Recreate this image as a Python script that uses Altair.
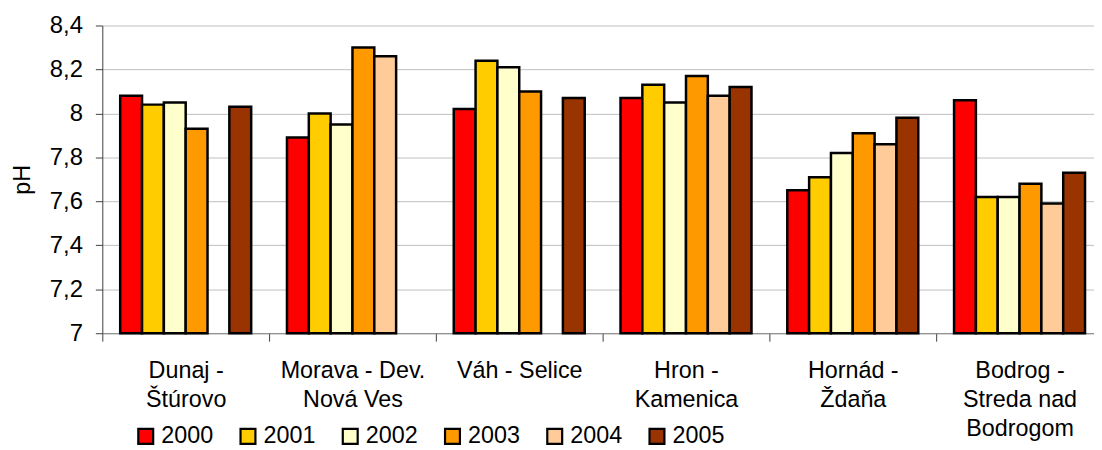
import altair as alt
import pandas as pd

categories = [
    "Dunaj -|Štúrovo",
    "Morava - Dev.|Nová Ves",
    "Váh - Selice",
    "Hron -|Kamenica",
    "Hornád -|Ždaňa",
    "Bodrog -|Streda nad|Bodrogom",
]
years = ["2000", "2001", "2002", "2003", "2004", "2005"]
colors = ["#FF0000", "#FFCC00", "#FFFFCC", "#FF9900", "#FFCC99", "#993300"]

# values per year (None = missing)
v2000 = [8.08, 7.89, 8.02, 8.07, 7.65, 8.06]
v2001 = [8.04, 8.00, 8.24, 8.13, 7.71, 7.62]
v2002 = [8.05, 7.95, 8.21, 8.05, 7.82, 7.62]
v2003 = [7.93, 8.30, 8.10, 8.17, 7.91, 7.68]
v2004 = [None, 8.26, None, 8.08, 7.86, 7.59]
v2005 = [8.03, None, 8.07, 8.12, 7.98, 7.73]

y_ticks = [7.0, 7.2, 7.4, 7.6, 7.8, 8.0, 8.2, 8.4]

rows = []
for yr, vals in zip(years, [v2000, v2001, v2002, v2003, v2004, v2005]):
    for cat, v in zip(categories, vals):
        if v is not None:
            rows.append({"river": cat, "year": yr, "pH": v})
df = pd.DataFrame(rows)

FONT = "Liberation Sans"
FS = 23.5

chart = alt.Chart(df).mark_bar(stroke="#000000", strokeWidth=2.5, strokeOpacity=1).encode(
    x=alt.X(
        "river:N",
        sort=categories,
        scale=alt.Scale(paddingInner=0, paddingOuter=0, range=[0, 1008]),
        axis=alt.Axis(
            title=None,
            labelAngle=0,
            tickBand="extent",
            labelExpr="split(datum.label, '|')",
            labelLineHeight=29,
            labelFontSize=FS,
            labelFont=FONT,
            labelColor="black",
            labelPadding=18,
            labelBaseline="top",
            tickSize=8,
            tickColor="#404040",
            domainColor="#808080",
            grid=False,
        ),
    ),
    xOffset=alt.XOffset(
        "year:N", sort=years, scale=alt.Scale(paddingInner=0, paddingOuter=0.82)
    ),
    y=alt.Y(
        "pH:Q",
        scale=alt.Scale(domain=[7, 8.4], zero=False, nice=False),
        axis=alt.Axis(
            title="pH",
            titleFont=FONT,
            titleFontSize=FS,
            titleFontWeight="normal",
            titleColor="black",
            titlePadding=15,
            values=y_ticks,
            labelExpr="replace(format(datum.value, '.1~f'), '.', ',')",
            labelFont=FONT,
            labelFontSize=24,
            labelColor="black",
            labelPadding=13,
            tickSize=7,
            tickColor="#404040",
            domainColor="#404040",
            gridColor="#c0c0c0",
            gridWidth=1,
        ),
    ),
    y2=alt.datum(7),
    stroke=alt.value("#000000"),
    strokeWidth=alt.value(2.5),
    color=alt.Color(
        "year:N",
        sort=years,
        scale=alt.Scale(domain=years, range=colors),
        legend=alt.Legend(
            title=None,
            orient="none",
            legendX=32,
            legendY=402,
            direction="horizontal",
            columns=6,
            columnPadding=22,
            symbolType="square",
            symbolSize=225,
            symbolStrokeColor="#000000",
            symbolStrokeWidth=2.2,
            symbolOpacity=1,
            labelFont=FONT,
            labelFontSize=FS,
            labelColor="black",
            labelOffset=4,
            padding=0,
        ),
    ),
).properties(
    width=999,
    height=310,
    autosize=alt.AutoSizeParams(type="none"),
    padding={"left": 95, "top": 16, "right": 0, "bottom": 116},
).configure_view(strokeWidth=0)

chart.save("out.html", embed_options={"renderer": "svg", "actions": False})
